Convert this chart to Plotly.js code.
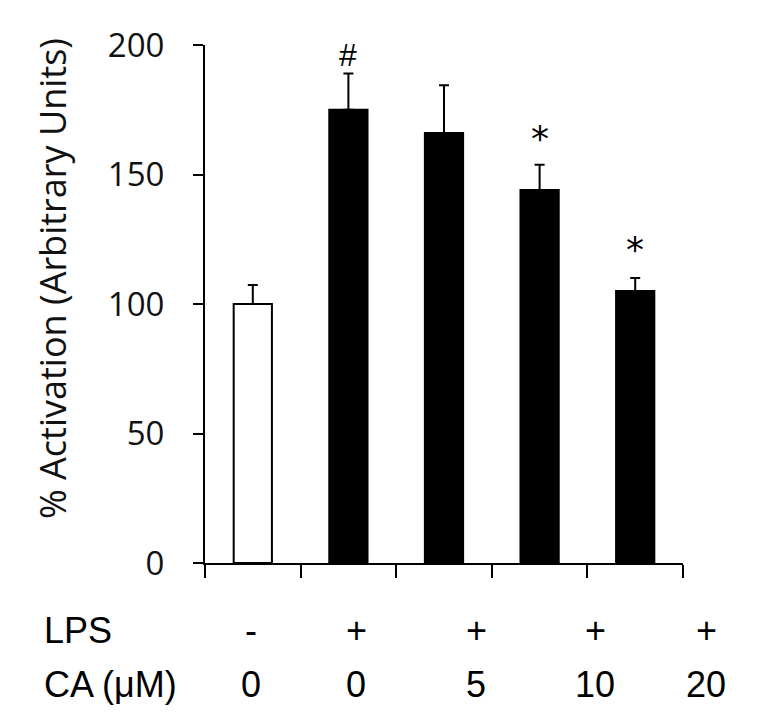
<!DOCTYPE html>
<html>
<head>
<meta charset="utf-8">
<script src="https://cdn.plot.ly/plotly-3.0.1.min.js"></script>
<style>html,body{margin:0;padding:0;background:#fff;}#chart{width:784px;height:723px;}</style>
</head>
<body>
<div id="chart"></div>
<script>
// ---- data ----
var groups = ['g1', 'g2', 'g3', 'g4', 'g5'];
var activation = [100, 175, 166, 144, 105];
var errorUp = [7.3, 14, 18.5, 9.8, 5];
var lpsLabels = ['-', '+', '+', '+', '+'];
var caLabels = ['0', '0', '5', '10', '20'];
var marks = ['', '#', '', '*', '*'];
var markY = [0, 196, 0, 164, 121];
var yTicks = [0, 50, 100, 150, 200];

// ---- layout helpers (pixel positions of bottom labels) ----
var L = 205, R = 683, T = 45, B = 563;
var labelPx = [251, 356, 476, 595, 706];
function px2x(p) { return (p - L) / (R - L); }
function py2y(p) { return (B - p) / (B - T); }

var fillColors = activation.map(function (v, i) { return i === 0 ? '#ffffff' : '#000000'; });

var trace = {
  type: 'bar',
  x: groups,
  y: activation,
  width: 0.4,
  marker: { color: fillColors, line: { color: '#000', width: 2 } },
  error_y: { type: 'data', symmetric: false, array: errorUp, arrayminus: errorUp.map(function () { return 0; }),
             color: '#000', thickness: 2, width: 5 },
  hoverinfo: 'none'
};

var labFont = { family: 'Liberation Sans', size: 36, color: '#000' };
var annotations = [];
groups.forEach(function (g, i) {
  if (marks[i]) {
    annotations.push({
      x: g, y: markY[i], xref: 'x', yref: 'y', text: marks[i], showarrow: false,
      xanchor: 'center', yanchor: 'middle',
      font: marks[i] === '#' ? { family: 'Liberation Sans', size: 32, color: '#000' }
                             : { family: 'DejaVu Sans', size: 36, color: '#000' }
    });
  }
  annotations.push({
    x: px2x(labelPx[i]), y: py2y(630), xref: 'paper', yref: 'paper', text: lpsLabels[i],
    showarrow: false, xanchor: 'center', yanchor: 'middle', font: labFont
  });
  annotations.push({
    x: px2x(labelPx[i]), y: py2y(684), xref: 'paper', yref: 'paper', text: caLabels[i],
    showarrow: false, xanchor: 'center', yanchor: 'middle', font: labFont
  });
});
annotations.push({
  x: px2x(42), y: py2y(630), xref: 'paper', yref: 'paper', text: 'LPS', showarrow: false,
  xanchor: 'left', yanchor: 'middle', font: labFont
});
annotations.push({
  x: px2x(42), y: py2y(684), xref: 'paper', yref: 'paper', text: 'CA (μM)', showarrow: false,
  xanchor: 'left', yanchor: 'middle', font: labFont
});
annotations.push({
  x: px2x(52), y: py2y(279), xref: 'paper', yref: 'paper', text: '% Activation (Arbitrary Units)',
  showarrow: false, textangle: -90, xanchor: 'center', yanchor: 'middle',
  font: { family: 'Open Sans', size: 36, color: '#111' }
});

var layout = {
  width: 784, height: 723,
  margin: { l: L, r: 784 - R, t: T, b: 723 - B, pad: 0 },
  paper_bgcolor: '#fff', plot_bgcolor: '#fff',
  showlegend: false,
  xaxis: {
    type: 'category', range: [-0.5, 4.5], tickson: 'boundaries',
    showline: true, linecolor: '#000', linewidth: 2,
    ticks: 'outside', ticklen: 13, tickwidth: 2, tickcolor: '#000',
    showticklabels: false, showgrid: false, zeroline: false, fixedrange: true
  },
  yaxis: {
    range: [0, 200], tickvals: yTicks, ticktext: yTicks.map(String),
    showline: true, linecolor: '#000', linewidth: 2,
    ticks: 'outside', ticklen: 10, tickwidth: 2, tickcolor: '#000',
    ticklabelstandoff: 22,
    tickfont: { family: 'Open Sans', size: 33, color: '#111' },
    showgrid: false, zeroline: false, fixedrange: true
  },
  annotations: annotations
};

Plotly.newPlot('chart', [trace], layout, { displayModeBar: false, staticPlot: true });
</script>
</body>
</html>
